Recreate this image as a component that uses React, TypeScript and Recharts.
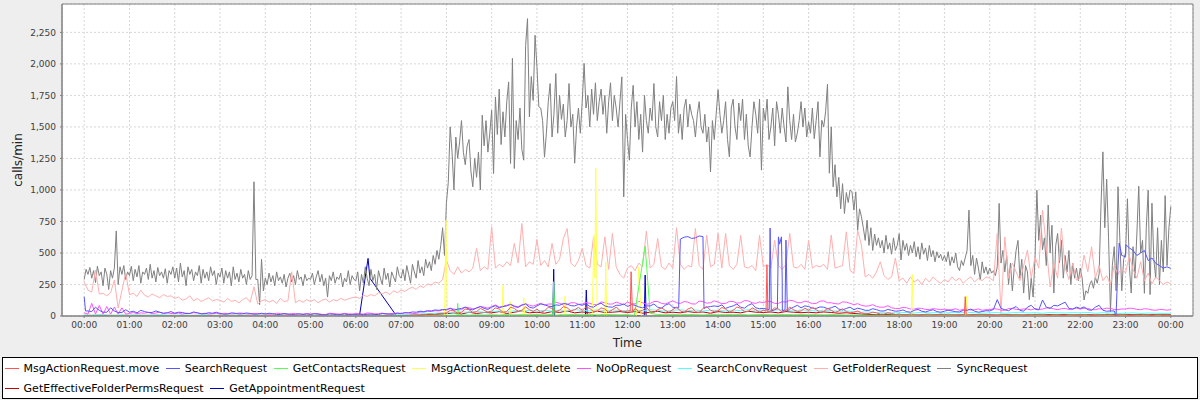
import React from 'react';
import { LineChart, Line, XAxis, YAxis, CartesianGrid, ReferenceArea } from 'recharts';

// ---- axis ticks ----
const HOUR_TICKS = [0, 1, 2, 3, 4, 5, 6, 7, 8, 9, 10, 11, 12, 13, 14, 15, 16, 17, 18, 19, 20, 21, 22, 23, 24];
const Y_TICKS = [0, 250, 500, 750, 1000, 1250, 1500, 1750, 2000, 2250];

// ---- series names & colours (legend order) ----
const SERIES_NAMES = [
  'MsgActionRequest.move', 'SearchRequest', 'GetContactsRequest', 'MsgActionRequest.delete', 'NoOpRequest',
  'SearchConvRequest', 'GetFolderRequest', 'SyncRequest', 'GetEffectiveFolderPermsRequest', 'GetAppointmentRequest',
];
const SERIES_COLORS = ['#ff5555', '#5555ff', '#55ff55', '#ffff55', '#ff55ff', '#55ffff', '#ffafaf', '#808080', '#c00000', '#0000c0'];

// ---- SyncRequest: 24 samples per hour (every 2.5 min) ----
const SYNC = [
  290,370,330,385,300,360,265,395,320,350,240,380,330,210,360,300,380,675,250,390,330,400,290,350,
  320,395,280,370,310,400,260,350,330,380,290,410,300,360,270,385,320,350,300,375,260,360,330,390,
  300,380,270,420,310,360,240,390,330,370,280,350,320,400,260,370,300,350,280,390,320,360,250,340,
  310,380,260,360,300,350,240,390,290,340,270,370,300,330,250,360,290,320,1065,290,290,90,450,200,
  300,250,340,270,320,240,350,280,310,260,330,230,300,340,270,320,250,360,290,310,240,330,280,300,
  290,340,250,310,360,270,330,240,300,150,320,280,350,260,310,290,340,230,300,270,360,250,320,290,
  280,350,200,330,260,390,300,240,370,280,330,210,360,300,250,380,290,340,230,350,310,270,390,320,
  300,370,280,400,330,260,410,350,300,440,340,390,320,450,380,430,360,480,410,520,450,560,700,480,
  895,1060,1500,1300,1000,1420,1250,1380,1550,1300,1200,1350,1400,1150,1025,1250,1100,1300,1000,1593,1350,1550,1300,1450,
  1632,1130,1738,1440,1800,1360,1620,1420,1700,1857,1210,2044,1170,1550,1400,1650,1320,1236,2146,2359,1580,1900,1710,2227,
  1977,1660,1650,1550,1260,1450,1700,1844,1420,1600,1923,1450,1750,1560,1680,1420,1550,1844,1500,1600,1212,1500,1650,1450,
  1700,2004,1650,1750,1500,1800,1600,1850,1550,1700,1800,1600,1750,1450,1700,1850,1550,1750,1650,1500,1700,1897,945,1600,
  1400,1236,1650,1830,1500,1700,1400,1600,1300,1750,1550,1450,1650,1550,1844,1500,1420,1700,1550,1750,1400,1600,1450,1650,
  1700,1550,1900,1450,1600,1400,1650,1720,1500,1680,1600,1550,1420,1600,1700,1500,1450,1600,1380,1500,1143,1550,1400,1600,
  1795,1600,1450,1550,1700,1400,1262,1650,1720,1500,1400,1690,1550,1720,1400,1600,1350,1262,1500,1700,1600,1450,1720,1157,
  1650,1550,1720,1400,1500,1650,1350,1700,1600,1450,1650,1500,1380,1818,1550,1400,1600,1380,1450,1550,1700,1500,1650,1420,
  1540,1450,1650,1407,1550,1700,1262,1553,1500,1620,1838,1133,1500,1025,1200,945,1100,850,1050,813,980,900,1000,985,
  840,985,681,850,787,700,600,760,560,700,520,650,560,620,540,600,500,640,530,580,490,620,520,560,
  653,444,600,520,575,480,560,500,590,470,550,450,580,490,540,440,560,470,520,430,510,460,490,440,
  480,430,510,400,470,420,500,390,360,440,400,460,520,840,400,480,330,460,380,285,430,340,390,330,
  380,340,360,320,390,893,420,520,350,480,250,420,200,380,520,600,300,450,182,400,350,130,300,150,
  450,998,600,800,525,620,400,880,500,720,182,560,655,420,600,300,480,350,520,250,420,300,380,280,
  380,300,127,200,180,250,280,220,310,260,333,880,1302,700,1085,620,35,400,550,200,1025,600,200,450,
  500,930,400,182,550,300,650,1030,500,600,180,700,998,170,895,450,300,700,250,600,350,955,400,700,
  870,
];

// ---- GetFolderRequest: 12 samples per hour (every 5 min) ----
const GET_FOLDER = [
  272,205,190,365,175,180,160,185,285,63,200,340,
  170,180,155,205,165,150,175,160,145,170,155,160,
  140,150,125,135,160,120,140,115,130,145,120,130,
  125,110,140,115,125,105,130,145,110,232,95,120,
  130,110,125,100,140,115,120,351,105,125,110,130,
  115,130,105,125,135,110,130,120,140,125,135,145,
  150,140,165,155,170,160,185,175,190,170,200,185,
  205,195,215,230,210,240,225,255,245,270,260,290,
  444,360,330,390,340,370,350,380,536,360,390,370,
  708,380,410,390,430,400,576,420,734,390,430,410,
  608,400,440,390,576,410,450,615,694,420,390,440,
  536,400,380,628,410,390,628,370,655,390,330,300,
  380,400,360,420,390,673,380,410,615,390,370,420,
  380,700,410,370,400,390,694,400,370,640,390,410,
  655,380,655,400,370,410,640,390,380,400,360,640,
  390,410,380,600,400,370,410,655,390,380,410,370,
  600,380,400,390,410,370,642,380,390,400,668,360,
  340,681,562,310,330,300,350,430,320,290,310,460,
  280,300,260,310,270,290,250,300,270,310,280,260,
  290,270,310,280,300,260,290,310,270,300,280,310,
  300,280,655,20,628,300,420,350,280,400,523,300,
  470,380,840,550,230,420,300,697,380,290,418,285,
  300,483,350,550,300,400,280,320,250,400,330,380,
  340,480,370,300,430,280,340,255,310,280,250,270,
  255,
];

// ---- SearchRequest: 12 samples per hour + extra [hour, value] points ----
const SEARCH_BASE = [
  153,40,35,70,45,30,30,65,40,28,28,50,
  30,38,25,45,35,28,28,40,30,22,25,35,
  22,30,28,20,20,32,25,18,18,26,22,30,
  20,14,15,25,22,16,18,24,20,14,15,22,
  15,22,18,12,12,20,16,12,14,18,12,16,
  12,18,15,10,10,16,14,10,12,17,10,14,
  12,16,10,14,15,12,12,20,18,14,15,22,
  20,26,25,32,30,38,35,42,40,48,45,52,
  50,62,45,55,60,70,55,48,65,75,60,52,
  70,82,65,75,80,92,75,68,85,95,70,62,
  80,95,90,78,75,88,85,100,95,82,80,92,
  85,98,75,70,90,102,80,72,70,85,85,95,
  75,90,85,72,65,80,80,95,70,62,85,98,
  70,65,610,625,630,615,620,635,630,70,75,80,
  75,88,60,72,80,95,70,62,85,98,65,58,
  60,55,300,50,628,300,602,55,70,85,65,80,
  75,62,60,72,70,58,65,78,55,48,60,70,
  50,62,55,45,45,58,50,40,40,52,45,38,
  40,48,35,30,45,52,38,32,42,50,35,30,
  38,46,40,34,32,45,45,55,38,30,35,42,
  40,52,130,60,50,42,60,75,45,38,70,85,
  55,48,127,70,60,85,80,95,110,60,55,70,
  60,72,50,45,70,85,45,38,40,40,400,480,
  470,540,520,480,500,520,440,460,418,400,380,390,
  378,
];
const SEARCH_EVENTS = [
  [0.03, 40], [13.13, 65], [13.69, 60], [15.13, 50], [15.15, 697], [15.175, 40], [15.31, 60], [15.36, 570],
  [15.4, 628], [15.42, 40], [15.48, 50], [15.53, 40], [22.76, 30], [22.79, 0], [22.86, 578], [23.01, 565],
];

// ---- NoOpRequest: 12 samples per hour ----
const NOOP = [
  25,15,100,15,84,15,75,15,70,15,65,15,
  20,28,18,25,22,30,18,24,30,20,26,20,
  18,24,15,22,20,26,25,18,22,16,18,22,
  15,22,20,17,18,24,22,16,15,21,20,17,
  18,14,15,22,20,16,12,19,18,14,15,20,
  15,20,18,13,12,22,20,16,15,21,18,14,
  20,16,15,24,22,17,18,23,15,19,20,24,
  18,26,25,20,20,32,30,38,35,42,40,48,
  45,60,55,48,50,70,65,58,60,75,70,62,
  75,88,70,80,85,95,80,72,90,98,85,78,
  90,102,85,95,95,110,100,88,90,105,105,92,
  95,108,100,90,90,112,105,95,95,110,100,90,
  110,98,95,118,105,92,100,115,115,100,95,108,
  120,105,100,115,110,96,95,118,115,102,105,120,
  110,98,100,116,115,102,105,122,120,105,100,112,
  105,118,115,100,100,114,110,125,120,106,105,118,
  110,98,100,118,120,105,105,98,95,112,110,100,
  90,98,85,78,80,90,75,70,70,82,65,60,
  60,68,65,55,55,62,60,52,50,58,55,50,
  55,48,50,58,45,52,55,47,50,56,45,50,
  50,58,55,46,45,60,60,52,50,57,55,48,
  60,52,55,64,65,56,50,58,60,52,55,62,
  55,62,60,50,50,58,55,62,60,52,50,56,
  55,62,60,52,50,58,55,48,45,52,50,46,
  50,
];

// ---- MsgActionRequest.move: 12 samples per hour + extra points ----
const MOVE_BASE = [
  0,2,2,0,0,3,3,1,1,0,0,1,
  1,0,0,2,2,0,0,1,1,0,0,2,
  0,1,1,0,0,2,2,0,0,1,1,0,
  1,0,0,1,0,2,2,0,1,0,0,1,
  0,1,1,0,0,0,0,2,2,0,0,1,
  1,0,0,1,1,0,0,0,0,2,2,0,
  0,2,2,1,1,0,0,3,3,1,1,0,
  2,4,5,8,8,6,10,14,15,12,20,18,
  25,45,40,22,30,55,50,28,35,60,45,30,
  40,65,55,30,35,70,60,38,45,72,50,35,
  55,30,40,70,60,35,45,75,65,40,50,68,
  45,72,60,35,40,65,55,30,50,70,45,32,
  40,300,60,35,45,70,35,28,50,65,45,30,
  50,72,40,30,55,68,35,25,60,75,45,35,
  40,68,55,30,45,72,60,35,35,65,50,30,
  45,350,40,65,55,30,45,70,50,35,40,62,
  45,68,50,30,35,60,45,28,40,58,35,25,
  30,40,25,18,20,30,25,15,15,25,20,12,
  15,10,10,16,12,8,8,14,14,10,10,15,
  10,14,12,8,8,12,11,9,9,13,12,8,
  10,6,8,12,12,8,9,13,11,7,8,12,
  9,13,12,8,8,11,10,6,7,12,11,8,
  8,12,10,6,7,11,9,14,12,8,8,12,
  10,6,7,11,9,12,8,6,10,12,6,9,
  5,
];
const MOVE_EVENTS = [
  [12.06, 40], [12.08, 351], [12.11, 30], [15.06, 40], [15.08, 404], [15.1, 30], [19.44, 10], [19.46, 153], [19.48, 10],
];

// ---- 6 samples per hour (every 10 min) ----
const SEARCH_CONV = [
  10,8,12,9,7,10, 8,10,7,9,11,8, 7,9,6,8,10,7, 6,8,7,9,6,8,
  7,5,8,6,7,5, 6,8,5,7,6,8, 7,6,9,7,8,10, 10,12,15,18,20,25,
  28,25,32,30,35,30, 35,40,32,42,38,45, 40,45,38,48,42,50, 45,40,50,42,48,44,
  42,48,40,50,45,38, 45,50,42,48,40,46, 44,40,48,42,50,45, 46,42,50,44,40,48,
  45,40,46,42,38,40, 35,30,32,28,30,25, 26,28,24,30,25,27, 24,28,25,30,26,22,
  25,28,22,26,30,24, 26,22,28,25,24,27, 25,28,22,26,24,20, 22,25,20,24,22,20,
  22,
];

const PERMS = [
  2,0,3,1,0,2, 0,2,1,0,3,0, 1,0,2,0,1,3, 0,2,0,1,0,2,
  1,0,2,0,0,1, 0,1,0,2,1,0, 2,0,1,3,0,2, 3,5,8,10,12,15,
  18,25,15,30,20,28, 25,35,20,30,40,25, 30,22,35,28,40,25, 32,25,38,28,30,35,
  28,35,22,30,38,25, 30,25,35,28,32,22, 35,28,30,25,38,30, 28,32,25,35,30,26,
  30,25,32,28,22,26, 20,15,12,10,12,10, 8,10,6,9,7,10, 8,6,9,7,10,8,
  9,7,10,8,6,9, 10,8,12,9,11,8, 9,11,8,10,12,9, 11,10,13,9,12,10,
  10,
];

const CONTACTS_BASE = [
  0,1,0,0,1,0, 0,0,1,0,0,1, 0,1,0,0,0,1, 0,0,1,0,1,0,
  1,0,0,1,0,0, 0,1,0,0,1,0, 0,0,1,0,1,1, 0,1,2,2,3,4,
  5,6,8,7,10,8, 10,8,12,9,11,10, 12,9,13,10,11,12, 10,12,9,13,11,10,
  11,40,424,20,12,10, 12,10,13,11,9,12, 10,13,11,12,9,11, 12,10,11,13,10,12,
  10,11,9,12,10,8, 8,7,6,5,6,5, 4,5,3,4,5,3, 4,3,5,4,3,4,
  3,4,5,3,4,3, 4,3,4,5,3,4, 3,4,3,5,4,3, 4,3,4,3,5,4,
  3,
];
const CONTACTS_EVENTS = [
  [8.23, 5], [8.25, 100], [8.27, 5], [10.35, 5], [10.37, 272], [10.4, 5], [12.15, 5], [12.39, 555],
];

// ---- sparse series given as [hour, value] ----
const DELETE_POINTS = [
  [0, 0], [7.96, 0], [7.99, 760], [8.02, 0], [9.23, 0], [9.25, 245], [9.27, 0], [9.39, 0], [9.41, 113], [9.43, 0],
  [9.69, 0], [9.71, 145], [9.73, 0], [10.6, 0], [10.62, 158], [10.64, 0], [11.22, 0], [11.26, 640], [11.28, 300],
  [11.3, 1175], [11.33, 0], [11.5, 0], [11.52, 430], [11.54, 0], [12.2, 0], [12.25, 390], [12.3, 0],
  [18.27, 0], [18.29, 330], [18.31, 0], [19.47, 0], [19.49, 160], [19.51, 0], [24, 0],
];
const APPOINTMENT_POINTS = [
  [0, 0], [6.08, 0], [6.27, 457], [6.31, 300], [6.9, 0], [10.35, 0], [10.37, 371], [10.39, 0],
  [11.07, 0], [11.09, 206], [11.11, 0], [12.37, 0], [12.39, 325], [12.41, 0], [24, 0],
];

type Pt = { t: number; v: number };
const fromSteps = (vals: number[], perHour: number): Pt[] => vals.map((v, i) => ({ t: i / perHour, v }));
const fromPairs = (pairs: number[][]): Pt[] => pairs.map(([t, v]) => ({ t, v }));
const merge = (a: Pt[], b: Pt[]): Pt[] => [...a, ...b].sort((p, q) => p.t - q.t);

const SERIES_DATA: Pt[][] = [
  merge(fromSteps(MOVE_BASE, 12), fromPairs(MOVE_EVENTS)),
  merge(fromSteps(SEARCH_BASE, 12), fromPairs(SEARCH_EVENTS)),
  merge(fromSteps(CONTACTS_BASE, 6), fromPairs(CONTACTS_EVENTS)),
  fromPairs(DELETE_POINTS),
  fromSteps(NOOP, 12),
  fromSteps(SEARCH_CONV, 6),
  fromSteps(GET_FOLDER, 12),
  fromSteps(SYNC, 24),
  fromSteps(PERMS, 6),
  fromPairs(APPOINTMENT_POINTS),
];

const fmtHour = (h: number) => String(h % 24).padStart(2, '0') + ':00';
const fmtNum = (v: number) => v.toLocaleString('en-US');

const FONT = '"DejaVu Sans", sans-serif';
const DRAW_ORDER = [9, 8, 7, 6, 5, 4, 3, 2, 1, 0];

export default function App() {
  return (
    <div style={{ position: 'absolute', left: 0, top: 0, width: 1200, height: 400, background: '#eeeeee', fontFamily: FONT }}>
      <LineChart width={1200} height={400} margin={{ top: 4, right: 7, bottom: 0, left: 0 }}>
        <CartesianGrid fill="#ffffff" stroke="#d6d6d6" strokeDasharray="2 2" />
        <XAxis
          dataKey="t"
          type="number"
          domain={[-0.49, 24.49]}
          allowDataOverflow
          ticks={HOUR_TICKS}
          interval={0}
          tickFormatter={fmtHour}
          height={84}
          tickSize={2}
          tickMargin={4}
          axisLine={{ stroke: '#808080' }}
          tickLine={{ stroke: '#808080' }}
          tick={{ fontSize: 9, fill: '#404040', fontFamily: FONT }}
          label={{ value: 'Time', position: 'insideTop', offset: 22, fontSize: 12, fill: '#222', fontFamily: FONT }}
        />
        <YAxis
          type="number"
          domain={[0, 2475]}
          allowDataOverflow
          ticks={Y_TICKS}
          interval={0}
          tickFormatter={fmtNum}
          width={62}
          tickSize={2}
          tickMargin={4}
          axisLine={{ stroke: '#808080' }}
          tickLine={{ stroke: '#808080' }}
          tick={{ fontSize: 9, fill: '#404040', fontFamily: FONT }}
          label={{ value: 'calls/min', angle: -90, position: 'insideLeft', offset: 18, fontSize: 12, fill: '#222', fontFamily: FONT, style: { textAnchor: 'middle' } }}
        />
        {DRAW_ORDER.map((i) => (
          <Line
            key={SERIES_NAMES[i]}
            data={SERIES_DATA[i]}
            dataKey="v"
            name={SERIES_NAMES[i]}
            type="linear"
            stroke={SERIES_COLORS[i]}
            strokeWidth={1}
            dot={false}
            activeDot={false}
            isAnimationActive={false}
          />
        ))}
        <ReferenceArea x1={-0.49} x2={24.49} y1={0} y2={2475} fill="none" stroke="#808080" strokeWidth={1} />
      </LineChart>
      <div
        style={{
          position: 'absolute', left: 2, top: 357, width: 1196, height: 42, boxSizing: 'border-box',
          border: '1px solid #000', background: '#fff', display: 'flex', flexWrap: 'wrap', alignContent: 'flex-start',
          paddingLeft: 1.6, fontSize: 11, fontFamily: FONT, color: '#000',
        }}
      >
        {SERIES_NAMES.map((n, i) => (
          <div key={n} style={{ display: 'flex', alignItems: 'center', height: 20, marginRight: 6.5, whiteSpace: 'nowrap' }}>
            <span style={{ display: 'inline-block', width: 14, height: 1, background: SERIES_COLORS[i], marginRight: 5 }} />
            <span>{n}</span>
          </div>
        ))}
      </div>
    </div>
  );
}
